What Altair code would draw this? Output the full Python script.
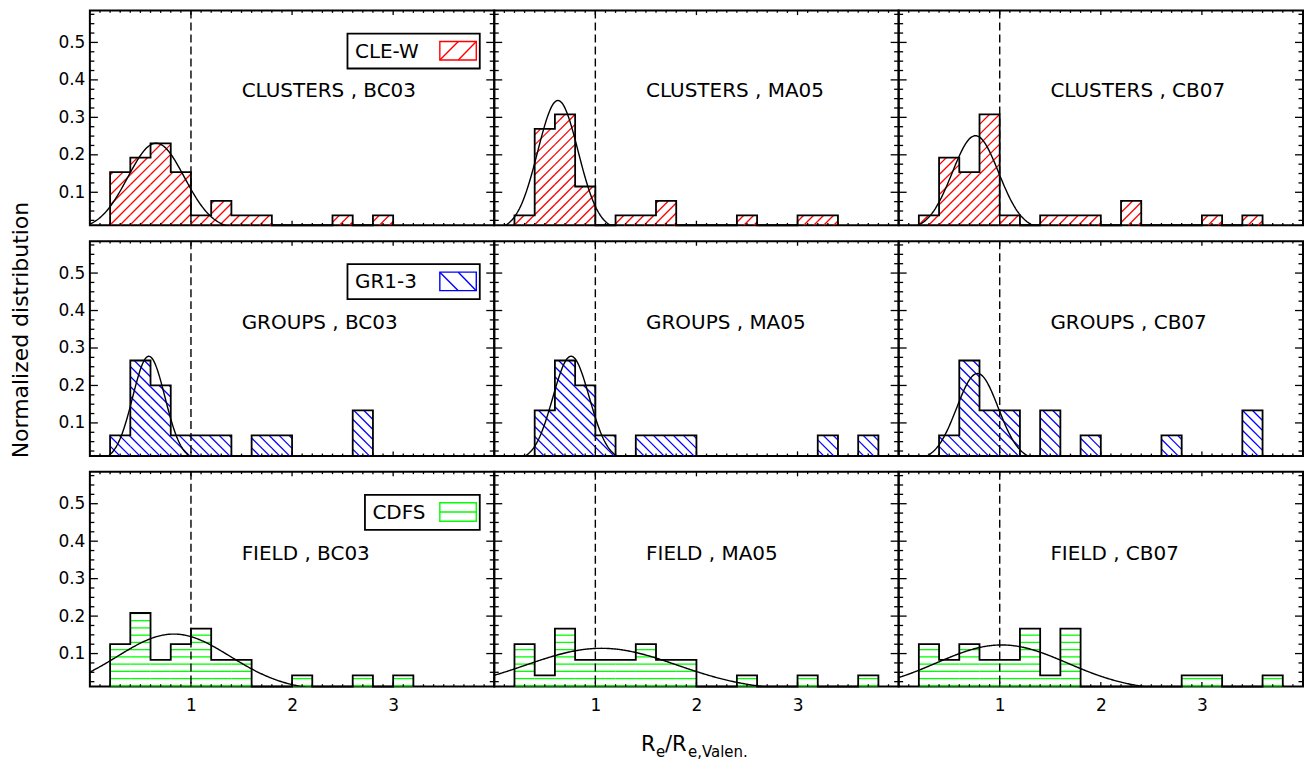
import math
import altair as alt
import numpy as np
import pandas as pd

FONT = "DejaVu Sans"

# ------------------------------------------------------------------ data
BIN_LEFT = [0.0, 0.2, 0.4, 0.6, 0.8, 1.0, 1.2, 1.4, 1.6, 1.8,
            2.0, 2.2, 2.4, 2.6, 2.8, 3.0, 3.2, 3.4, 3.6, 3.8]
BIN_WIDTH = 0.2

ROW_NAMES = ["CLUSTERS", "GROUPS", "FIELD"]
MODEL_NAMES = ["BC03", "MA05", "CB07"]
SAMPLE_NAMES = ["CLE-W", "GR1-3", "CDFS"]
N_GALAXIES = [26, 15, 24]

# galaxy counts per bin (bins of BIN_LEFT)
CLU_BC03 = [0, 4, 5, 6, 4, 1, 2, 1, 1, 0, 0, 0, 1, 0, 1, 0, 0, 0, 0, 0]
CLU_MA05 = [0, 1, 7, 8, 3, 0, 1, 1, 2, 0, 0, 0, 1, 0, 0, 1, 1, 0, 0, 0]
CLU_CB07 = [0, 1, 5, 4, 8, 1, 0, 1, 1, 1, 0, 2, 0, 0, 0, 1, 0, 1, 0, 0]
GRP_BC03 = [0, 1, 4, 3, 1, 1, 1, 0, 1, 1, 0, 0, 0, 2, 0, 0, 0, 0, 0, 0]
GRP_MA05 = [0, 0, 2, 4, 3, 1, 0, 1, 1, 1, 0, 0, 0, 0, 0, 0, 1, 0, 1, 0]
GRP_CB07 = [0, 0, 1, 4, 2, 2, 0, 2, 0, 1, 0, 0, 0, 1, 0, 0, 0, 2, 0, 0]
FLD_BC03 = [0, 3, 5, 2, 3, 4, 2, 2, 0, 0, 1, 0, 0, 1, 0, 1, 0, 0, 0, 0]
FLD_MA05 = [0, 3, 1, 4, 2, 2, 2, 3, 2, 2, 0, 0, 1, 0, 0, 1, 0, 0, 1, 0]
FLD_CB07 = [0, 3, 2, 3, 2, 2, 4, 1, 4, 0, 0, 0, 0, 0, 1, 1, 0, 0, 1, 0]

# gaussian fits (amplitude, mean, sigma) per model
GAUSS_AMP_CLU = [0.231, 0.345, 0.251]
GAUSS_MU_CLU = [0.655, 0.63, 0.76]
GAUSS_SIG_CLU = [0.28, 0.20, 0.23]
GAUSS_AMP_GRP = [0.278, 0.278, 0.232]
GAUSS_MU_GRP = [0.583, 0.76, 0.78]
GAUSS_SIG_GRP = [0.16, 0.18, 0.205]
GAUSS_AMP_FLD = [0.152, 0.114, 0.123]
GAUSS_MU_FLD = [0.83, 1.06, 1.02]
GAUSS_SIG_FLD = [0.56, 0.75, 0.65]

X_MAJOR = [1, 2, 3]
X_MINOR = [round(i * 0.1, 1) for i in range(1, 40) if i % 10]
Y_MAJOR = [0.1, 0.2, 0.3, 0.4, 0.5]
Y_MINOR = [round(i * 0.025, 3) for i in range(1, 24) if i % 4]
REFERENCE_RATIO = [1.0]

COUNTS = [[CLU_BC03, CLU_MA05, CLU_CB07],
          [GRP_BC03, GRP_MA05, GRP_CB07],
          [FLD_BC03, FLD_MA05, FLD_CB07]]
GAUSS = [[GAUSS_AMP_CLU, GAUSS_MU_CLU, GAUSS_SIG_CLU],
         [GAUSS_AMP_GRP, GAUSS_MU_GRP, GAUSS_SIG_GRP],
         [GAUSS_AMP_FLD, GAUSS_MU_FLD, GAUSS_SIG_FLD]]
HATCH_COLOR = ["#ff0000", "#0000ff", "#00ff00"]
HATCH_KIND = ["/", "\\", "-"]

# ------------------------------------------------------------------ layout
W, H = 405, 215
XMIN, XMAX = 0.0, 4.0
YMIN, YMAX = 0.012, 0.585


def to_x(px):
    return XMIN + px * (XMAX - XMIN) / W


def to_y(py_up):
    return YMIN + py_up * (YMAX - YMIN) / H


def hatch(x0, x1, v, kind, sp):
    a = (x0 - XMIN) * W / (XMAX - XMIN)
    b = (x1 - XMIN) * W / (XMAX - XMIN)
    ph = (v - YMIN) * H / (YMAX - YMIN)
    segs = []
    if kind == "-":
        py = 0.7
        while py < ph - 0.3:
            segs.append((a, py, b, py))
            py += sp
    elif kind == "/":
        for k in range(math.floor((a - ph) / sp) - 1, math.ceil(b / sp) + 2):
            c = k * sp
            lo, hi = max(a, c), min(b, c + ph)
            if hi - lo > 0.4:
                segs.append((lo, lo - c, hi, hi - c))
    else:
        for k in range(math.floor(a / sp) - 1, math.ceil((b + ph) / sp) + 2):
            c = k * sp
            lo, hi = max(a, c - ph), min(b, c)
            if hi - lo > 0.4:
                segs.append((lo, c - lo, hi, c - hi))
    return [dict(x=to_x(s[0]), y=to_y(s[1]), x2=to_x(s[2]), y2=to_y(s[3])) for s in segs]


def panel(r, c):
    counts = COUNTS[r][c]
    n = N_GALAXIES[r]
    vals = [k / n for k in counts]
    color = HATCH_COLOR[r]
    kind = HATCH_KIND[r]

    xsc = alt.Scale(domain=[XMIN, XMAX], nice=False, zero=False)
    ysc = alt.Scale(domain=[YMIN, YMAX], nice=False, zero=False)
    if r == 2:
        xaxis = alt.Axis(values=X_MAJOR, format="d", ticks=False, domain=False, grid=False,
                         labelFont=FONT, labelFontSize=17, labelColor="black",
                         labelPadding=11, title=None)
    else:
        xaxis = None
    if c == 0:
        yaxis = alt.Axis(values=Y_MAJOR, format=".1f", ticks=False, domain=False, grid=False,
                         labelFont=FONT, labelFontSize=17, labelColor="black",
                         labelPadding=5, title=None)
    else:
        yaxis = None

    def X(f):
        return alt.X(f, type="quantitative", scale=xsc, axis=xaxis)

    def Y(f):
        return alt.Y(f, type="quantitative", scale=ysc, axis=yaxis)

    # hatching
    rows = []
    sp = 7.25 if kind == "-" else 10.0
    for x0, v in zip(BIN_LEFT, vals):
        if v > 0:
            rows += hatch(x0, x0 + BIN_WIDTH, v, kind, sp)
    hatch_layer = alt.Chart(pd.DataFrame(rows)).mark_rule(
        color=color, strokeWidth=1.3).encode(x=X("x"), y=Y("y"), x2="x2", y2="y2")

    # histogram outline
    nz = [i for i, v in enumerate(vals) if v > 0]
    pts = [(BIN_LEFT[nz[0]], YMIN)]
    for i in range(nz[0], nz[-1] + 1):
        v = max(vals[i], YMIN)
        pts.append((BIN_LEFT[i], v))
        pts.append((BIN_LEFT[i] + BIN_WIDTH, v))
    pts.append((BIN_LEFT[nz[-1]] + BIN_WIDTH, YMIN))
    odf = pd.DataFrame({"o": range(len(pts)), "x": [p[0] for p in pts], "y": [p[1] for p in pts]})
    outline = alt.Chart(odf).mark_line(color="black", strokeWidth=1.8).encode(
        x=X("x"), y=Y("y"), order="o:Q")

    # gaussian fit
    amp, mu, sig = GAUSS[r][0][c], GAUSS[r][1][c], GAUSS[r][2][c]
    gx = np.linspace(XMIN, XMAX, 401)
    gdf = pd.DataFrame({"x": gx, "y": amp * np.exp(-(gx - mu) ** 2 / (2 * sig ** 2))})
    curve = alt.Chart(gdf).mark_line(color="black", strokeWidth=1.4, clip=True).encode(
        x=X("x"), y=Y("y"))

    # dashed reference line
    dash = alt.Chart(pd.DataFrame({"x": REFERENCE_RATIO})).mark_rule(
        color="black", strokeWidth=1.4, strokeDash=[8, 4]).encode(
        x=X("x"), y=alt.value(0), y2=alt.value(H))

    # inward ticks
    def xt(vals_, y0, y1):
        return alt.Chart(pd.DataFrame({"v": vals_})).mark_rule(
            color="black", strokeWidth=1.3).encode(x=X("v"), y=alt.value(y0), y2=alt.value(y1))

    def yt(vals_, x0, x1):
        return alt.Chart(pd.DataFrame({"v": vals_})).mark_rule(
            color="black", strokeWidth=1.3).encode(y=Y("v"), x=alt.value(x0), x2=alt.value(x1))

    ticks = [xt(X_MAJOR, H, H - 4.5), xt(X_MINOR, H, H - 2.3),
             xt(X_MAJOR, 0, 4.5), xt(X_MINOR, 0, 2.3),
             yt(Y_MAJOR, 0, 8), yt(Y_MINOR, 0, 4.5),
             yt(Y_MAJOR, W, W - 8), yt(Y_MINOR, W, W - 4.5)]

    label_y = [86.5, 87.5, 88.5][r]
    label = alt.Chart(pd.DataFrame({"t": [f"{ROW_NAMES[r]} , {MODEL_NAMES[c]}"]})).mark_text(
        align="left", baseline="alphabetic", font=FONT, fontSize=20, color="black").encode(
        x=alt.value(152), y=alt.value(label_y), text="t:N")

    layers = [hatch_layer, outline, dash, curve] + ticks + [label]

    if c == 0:
        bx0 = 275.5 if r == 2 else 258
        one = pd.DataFrame({"t": [SAMPLE_NAMES[r]]})
        box = alt.Chart(one).mark_rect(fill="white", stroke="black", strokeWidth=1.8).encode(
            x=alt.value(bx0), x2=alt.value(390.5), y=alt.value(23), y2=alt.value(58))
        ltxt = alt.Chart(one).mark_text(
            align="left", baseline="alphabetic", font=FONT, fontSize=20, color="black").encode(
            x=alt.value(bx0 + 7.5), y=alt.value(47), text="t:N")
        sw = alt.Chart(one).mark_rect(fill="white", stroke=color, strokeWidth=1.4).encode(
            x=alt.value(350.5), x2=alt.value(387), y=alt.value(31), y2=alt.value(49.5))
        if kind == "/":
            segs = [(350.5, 49.5, 369, 31), (369, 49.5, 387, 31)]
        elif kind == "\\":
            segs = [(350.5, 31, 369, 49.5), (369, 31, 387, 49.5)]
        else:
            segs = [(350.5, 40.2, 387, 40.2)]
        sdf = pd.DataFrame([dict(x=to_x(s[0]), y=to_y(H - s[1]), x2=to_x(s[2]), y2=to_y(H - s[3]))
                            for s in segs])
        swl = alt.Chart(sdf).mark_rule(color=color, strokeWidth=1.4).encode(
            x=X("x"), y=Y("y"), x2="x2", y2="y2")
        layers += [box, ltxt, sw, swl]

    if r == 1 and c == 0:
        ytitle = alt.Chart(pd.DataFrame({"t": ["Normalized distribution"]})).mark_text(
            angle=270, align="center", baseline="middle", font=FONT, fontSize=22,
            color="black").encode(x=alt.value(-69), y=alt.value(89), text="t:N")
        layers.append(ytitle)

    if r == 2 and c == 1:
        pieces = pd.DataFrame({
            "t": ["R", "e", "/R", "e,Valen."],
            "px": [147, 162, 171, 194],
            "py": [280, 286, 280, 286],
            "fs": [21, 15, 21, 15],
        })
        for _, p in pieces.iterrows():
            layers.append(alt.Chart(pd.DataFrame({"t": [p["t"]]})).mark_text(
                align="left", baseline="alphabetic", font=FONT, fontSize=float(p["fs"]),
                color="black").encode(x=alt.value(float(p["px"])), y=alt.value(float(p["py"])),
                                      text="t:N"))

    return alt.layer(*layers).properties(width=W, height=H)


panels = [panel(r, c) for r in range(3) for c in range(3)]

chart = alt.concat(*panels, columns=3, spacing={"row": 16, "column": 0},
                   bounds="flush", padding=0).configure_view(
    stroke="black", strokeWidth=2).configure_axis(grid=False)

chart.save("out.html", embed_options={"renderer": "svg", "actions": False})
